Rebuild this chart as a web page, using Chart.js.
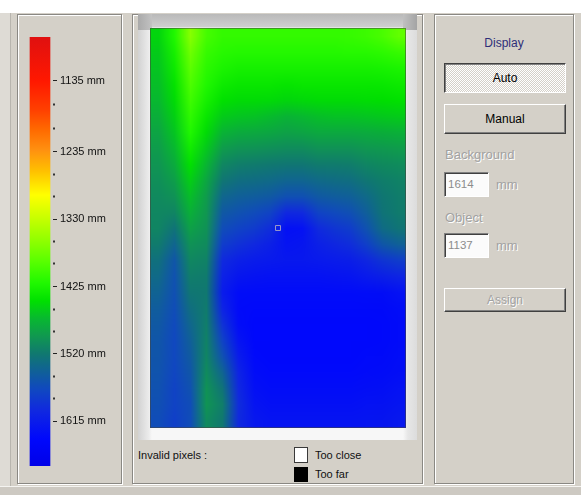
<!DOCTYPE html>
<html><head><meta charset="utf-8">
<script src="https://cdn.jsdelivr.net/npm/chart.js@4.4.1/dist/chart.umd.min.js"></script>
<style>
html,body{margin:0;padding:0;}
body{width:581px;height:495px;position:relative;overflow:hidden;background:#fff;font-family:"Liberation Sans",Arial,sans-serif;}
.a{position:absolute;box-sizing:border-box;}
.panel{border:1px solid #8a8883;box-shadow:inset 1px 1px 0 #fff,1px 1px 0 #fff;}
.btn{background:#d4d0c8;border-top:1px solid #fff;border-left:1px solid #fff;border-right:1px solid #404040;border-bottom:1px solid #404040;box-shadow:inset -1px -1px 0 #808080;text-align:center;font-size:12px;color:#000;}
.pressed{border-top:1px solid #404040;border-left:1px solid #404040;border-right:1px solid #fff;border-bottom:1px solid #fff;box-shadow:inset 1px 1px 0 #808080;background:repeating-conic-gradient(#ffffff 0 25%,#d4d0c8 0 50%) 0 0/2px 2px;text-align:center;font-size:12px;color:#000;}
.inp{border-top:1px solid #808080;border-left:1px solid #808080;border-right:1px solid #fff;border-bottom:1px solid #fff;box-shadow:inset 1px 1px 0 #404040;background:#fbfbfb;color:#8c8c8c;font-size:11.5px;padding-left:3px;}
.dis{color:#a2a2a2;text-shadow:1px 1px 0 #fff;font-size:13px;}
.t11{font-size:11px;color:#111;line-height:16px;white-space:nowrap;}
.t12{font-size:12px;line-height:16px;white-space:nowrap;}
</style></head>
<body>
<div class="a" style="left:0;top:13px;width:581px;height:482px;background:#d4d0c8;"></div>
<div class="a" style="left:0;top:13px;width:11px;height:473px;background:#dedbd5;border-right:1px solid #b8b5ae;"></div>
<div class="a" style="left:0;top:486px;width:581px;height:9px;background:#cdc9c2;border-top:1px solid #f4f3f0;"></div>

<!-- left panel -->
<div class="a panel" style="left:17px;top:14px;width:105px;height:470px;"></div>
<canvas id="cbar" class="a" width="104" height="469" style="left:17px;top:14px;width:104px;height:469px;"></canvas>

<!-- middle panel -->
<div class="a panel" style="left:132px;top:14px;width:291px;height:470px;"></div>
<div class="a" style="left:138px;top:14px;width:279px;height:426px;background:
linear-gradient(to bottom,#b9b9b9 0,#cfcfcf 13px,rgba(0,0,0,0) 14px),
linear-gradient(to right,#d2d2d2 0,#ececec 11px,#f7f7f7 14px,#f7f7f7 265px,#e6e6e6 270px,#dcdcdc 279px);"></div>
<div class="a" style="left:138px;top:14px;width:14px;height:16px;background:linear-gradient(to right,#a9a9a9,#c2c2c2);"></div>
<div class="a" style="left:403px;top:14px;width:14px;height:16px;background:linear-gradient(to right,#c0c0c0,#a4a4a4);"></div>
<canvas id="heat" class="a" width="256" height="400" style="left:150px;top:28px;width:256px;height:400px;"></canvas>
<canvas id="mark" class="a" width="256" height="400" style="left:150px;top:28px;width:256px;height:400px;"></canvas>
<div class="a" style="left:150px;top:28px;width:256px;height:400px;border:1px solid rgba(70,70,60,0.55);"></div>

<div class="a t11" style="left:138px;top:447px;">Invalid pixels :</div>
<div class="a" style="left:294px;top:447px;width:14px;height:16px;background:#fff;border:1px solid #3a3a3a;"></div>
<div class="a" style="left:294px;top:467px;width:14px;height:15px;background:#000;"></div>
<div class="a t11" style="left:315px;top:447px;">Too close</div>
<div class="a t11" style="left:315px;top:466px;">Too far</div>

<!-- right panel -->
<div class="a panel" style="left:434px;top:14px;width:140px;height:470px;"></div>
<div class="a t12" style="left:434px;top:35px;width:140px;text-align:center;color:#2e2e78;">Display</div>
<div class="a pressed" style="left:444px;top:63px;width:122px;height:30px;line-height:28px;">Auto</div>
<div class="a btn" style="left:444px;top:104px;width:122px;height:30px;line-height:28px;">Manual</div>
<div class="a dis" style="left:445px;top:147px;line-height:16px;">Background</div>
<div class="a inp" style="left:444px;top:172px;width:45px;height:25px;line-height:23px;">1614</div>
<div class="a dis" style="left:496px;top:177px;line-height:16px;">mm</div>
<div class="a dis" style="left:445px;top:210px;line-height:16px;">Object</div>
<div class="a inp" style="left:444px;top:233px;width:45px;height:25px;line-height:23px;">1137</div>
<div class="a dis" style="left:496px;top:238px;line-height:16px;">mm</div>
<div class="a btn dis" style="left:444px;top:288px;width:122px;height:24px;line-height:22px;color:#a2a2a2;font-size:12px;">Assign</div>

<script>
// ---- data ----
const colorbarRange = [1073, 1678];
const colorbarTickLabels = [1135, 1235, 1330, 1425, 1520, 1615];
const colorbarMinorTicks = [1168, 1202, 1267, 1298, 1362, 1393, 1457, 1488, 1552, 1583];
const colorbarStops = [1073, 1135, 1176, 1204, 1232, 1262, 1296, 1328, 1360, 1390, 1420, 1445, 1470, 1495, 1520, 1545, 1570, 1600, 1640, 1678];
const colorbarColors = ['#e01010','#ff1800','#ff4000','#ff6a00','#ff9010','#ffc000','#ffff00','#c8ff00','#90ff00','#58ff00','#20f800','#00e000','#08b830','#109850','#107870','#106098','#1048c0','#1028e0','#0008fc','#0000e8'];
const depthUnit = 'mm';
// depth image (mm), rows top to bottom, 16 columns each
const depthRows = [
  [1452,1420,1365,1400,1410,1410,1410,1410,1410,1410,1410,1410,1408,1405,1398,1385],
  [1458,1428,1378,1408,1416,1418,1418,1418,1418,1418,1418,1418,1417,1416,1413,1408],
  [1462,1435,1388,1414,1424,1428,1428,1428,1428,1428,1428,1428,1428,1428,1426,1424],
  [1466,1442,1396,1420,1434,1438,1438,1438,1440,1438,1438,1438,1438,1438,1437,1435],
  [1470,1448,1404,1428,1444,1448,1448,1449,1452,1450,1448,1448,1448,1447,1446,1444],
  [1478,1455,1412,1438,1458,1462,1464,1468,1474,1470,1466,1464,1464,1462,1460,1458],
  [1486,1462,1420,1448,1474,1480,1482,1484,1488,1486,1482,1482,1482,1480,1478,1476],
  [1492,1470,1432,1460,1492,1498,1500,1502,1504,1504,1500,1500,1500,1496,1494,1492],
  [1497,1480,1444,1472,1508,1515,1518,1520,1522,1522,1518,1518,1516,1510,1506,1504],
  [1502,1490,1456,1484,1522,1530,1532,1535,1540,1540,1535,1532,1530,1522,1516,1512],
  [1506,1500,1466,1492,1538,1545,1548,1552,1562,1562,1552,1548,1545,1535,1522,1516],
  [1508,1510,1476,1496,1552,1560,1566,1575,1600,1598,1575,1568,1562,1546,1525,1518],
  [1510,1525,1488,1500,1565,1575,1582,1595,1630,1628,1598,1588,1580,1560,1534,1524],
  [1518,1540,1500,1505,1580,1592,1600,1610,1625,1622,1610,1602,1595,1578,1555,1545],
  [1528,1555,1508,1512,1598,1610,1615,1618,1620,1620,1618,1615,1612,1602,1588,1580],
  [1535,1560,1515,1518,1608,1622,1626,1628,1628,1628,1628,1626,1624,1618,1610,1605],
  [1542,1562,1522,1520,1615,1634,1635,1635,1635,1635,1635,1635,1635,1634,1632,1628],
  [1548,1565,1530,1518,1605,1636,1638,1638,1638,1638,1638,1638,1638,1637,1636,1634],
  [1552,1568,1538,1515,1590,1634,1640,1640,1640,1640,1640,1640,1640,1640,1638,1636],
  [1555,1570,1545,1512,1575,1625,1640,1640,1640,1640,1640,1640,1640,1640,1638,1636],
  [1556,1570,1550,1510,1560,1615,1638,1640,1640,1640,1640,1640,1640,1638,1636,1634],
  [1558,1572,1555,1505,1540,1605,1634,1638,1638,1638,1638,1638,1638,1636,1634,1632],
  [1560,1575,1560,1500,1525,1600,1630,1634,1634,1634,1634,1634,1634,1632,1630,1628],
  [1562,1575,1565,1498,1515,1595,1625,1630,1630,1630,1630,1630,1630,1628,1626,1624],
  [1565,1578,1565,1505,1520,1598,1620,1625,1625,1625,1625,1625,1625,1624,1622,1620]
];
const markerPoint = [{x: 8.0, y: 12.5}];

// ---- colour map ----
function hex2rgb(h){return [parseInt(h.substr(1,2),16),parseInt(h.substr(3,2),16),parseInt(h.substr(5,2),16)];}
const stopRgb = colorbarColors.map(hex2rgb);
function colorFor(v){
  if (v <= colorbarStops[0]) return colorbarColors[0];
  for (let i = 1; i < colorbarStops.length; i++) {
    if (v <= colorbarStops[i]) {
      const t = (v - colorbarStops[i-1]) / (colorbarStops[i] - colorbarStops[i-1]);
      const a = stopRgb[i-1], b = stopRgb[i];
      return 'rgb(' + a.map((c,k)=>Math.round(c + (b[k]-c)*t)).join(',') + ')';
    }
  }
  return colorbarColors[colorbarColors.length-1];
}
const noUI = {legend:{display:false}, tooltip:{enabled:false}};

// ---- colour bar legend ----
const isMajor = (v) => colorbarTickLabels.includes(v);
new Chart(document.getElementById('cbar'), {
  type: 'bar',
  data: {datasets: [{
    yAxisID: 'y',
    data: [{x: 10, y: colorbarRange}],
    barThickness: 20,
    borderWidth: 0,
    backgroundColor: (ctx) => {
      const chart = ctx.chart;
      if (!chart.chartArea) return colorbarColors[0];
      const ys = chart.scales.y;
      const y0 = ys.getPixelForValue(colorbarRange[0]), y1 = ys.getPixelForValue(colorbarRange[1]);
      const g = chart.ctx.createLinearGradient(0, y0, 0, y1);
      colorbarStops.forEach((v, i) => g.addColorStop((v - colorbarRange[0]) / (colorbarRange[1] - colorbarRange[0]), colorbarColors[i]));
      return g;
    }
  }]},
  options: {
    responsive: false, animation: false, events: [], devicePixelRatio: 1,
    layout: {padding: {left: 12, top: 23, bottom: 17, right: 0}},
    plugins: noUI,
    scales: {
      x: {type: 'linear', display: false, min: 0, max: 24},
      yMinor: {
        type: 'linear', position: 'right', reverse: true, weight: 0,
        min: colorbarRange[0], max: colorbarRange[1],
        afterFit: (s) => { s.width = 0; },
        afterBuildTicks: (s) => { s.ticks = colorbarMinorTicks.map(v => ({value: v})); },
        border: {display: false},
        grid: {drawOnChartArea: false, drawTicks: true, tickLength: 2, tickWidth: 2, tickColor: '#333'},
        ticks: {autoSkip: false, display: false}
      },
      y: {
        type: 'linear', position: 'right', reverse: true, weight: 1,
        min: colorbarRange[0], max: colorbarRange[1],
        afterFit: (s) => { s.width = 68; },
        afterBuildTicks: (s) => { s.ticks = colorbarTickLabels.map(v => ({value: v})); },
        border: {display: false},
        grid: {drawOnChartArea: false, drawTicks: true, tickLength: 4, tickColor: '#222', tickWidth: 1},
        ticks: {autoSkip: false, padding: 3, color: '#111',
                font: {family: 'Liberation Sans', size: 11},
                callback: (v) => isMajor(v) ? v + ' ' + depthUnit : ''}
      }
    }
  }
});

// ---- depth image as heat map (stacked rows of cells) ----
const colLabels = depthRows[0].map((_, i) => 'c' + i);
new Chart(document.getElementById('heat'), {
  type: 'bar',
  data: {
    labels: colLabels,
    datasets: depthRows.map((row) => ({
      data: row.map(() => 1),
      backgroundColor: row.map(colorFor),
      borderWidth: 0, barPercentage: 1, categoryPercentage: 1, stack: 'img'
    }))
  },
  options: {
    responsive: false, animation: false, events: [],
    devicePixelRatio: 1/16,
    layout: {padding: 0},
    plugins: noUI,
    scales: {
      x: {display: false, stacked: true},
      y: {display: false, stacked: true, reverse: true, min: 0, max: depthRows.length}
    }
  }
});

// ---- measurement marker ----
new Chart(document.getElementById('mark'), {
  type: 'scatter',
  data: {datasets: [{data: markerPoint, pointStyle: 'rect', radius: 3.5, borderWidth: 1,
                     borderColor: '#9a9ac8', backgroundColor: 'rgba(0,0,0,0)'}]},
  options: {
    responsive: false, animation: false, events: [], devicePixelRatio: 1,
    layout: {padding: 0}, plugins: noUI,
    scales: {
      x: {display: false, min: 0, max: depthRows[0].length},
      y: {display: false, min: 0, max: depthRows.length, reverse: true}
    }
  }
});
</script>
</body></html>
